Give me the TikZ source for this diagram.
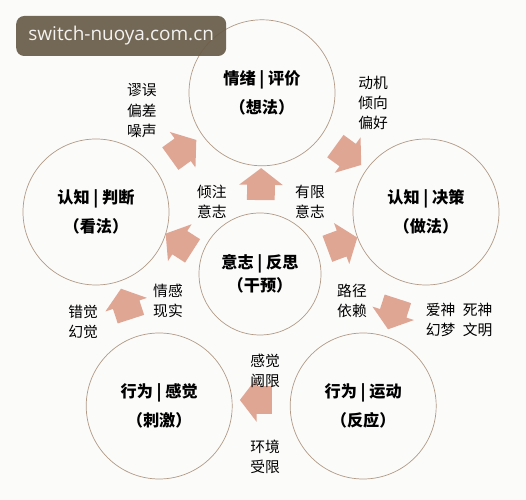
\documentclass[tikz,border=0pt]{standalone}
\usepackage{fontspec}
\setmainfont{Noto Sans CJK SC}
\newfontfamily\wmfont{Open Sans}
\usetikzlibrary{shapes.arrows}
\definecolor{arrowpink}{RGB}{224,166,148}
\definecolor{ringline}{RGB}{178,154,134}
\definecolor{wmbrown}{RGB}{104,92,72}
\definecolor{paper}{RGB}{251,251,250}
\tikzset{
  ring/.style={circle,draw=ringline,line width=0.5pt,minimum size=3.65cm,inner sep=0pt,
    align=center,font=\bfseries\fontsize{11.5}{21}\selectfont},
  flow/.style={single arrow,fill=arrowpink,draw=none,minimum height=0.8cm,
    single arrow head extend=0.2cm,single arrow tip angle=105,inner xsep=0pt,inner ysep=0.34cm,
    sloped,allow upside down},
  note/.style={align=center,font=\fontsize{10.5}{14.5}\selectfont}
}
\begin{document}
\begin{tikzpicture}
        \fill[paper] (0,0) rectangle (13.15,12.5);
        % Circles
        \node[ring] (think) at (6.55,10.18) {情绪 | 评价\\（想法）};
        \node[ring] (view) at (2.4,7.2) {认知 | 判断\\（看法）};
        \node[ring] (act) at (10.65,7.2) {认知 | 决策\\（做法）};
        \node[ring,minimum size=3.05cm,font=\bfseries\fontsize{11.5}{16}\selectfont] (will) at (6.5,5.65) {意志 | 反思\\（干预）};
        \node[ring] (sense) at (3.98,2.35) {行为 | 感觉\\（刺激）};
        \node[ring] (move) at (9.08,2.35) {行为 | 运动\\（反应）};
        % Block arrows
        \path (view) -- node[flow] {} (think);
        \path (think) -- node[flow] {} (act);
        \path (act) -- node[flow] {} (move);
        \path (move) -- node[flow,yshift=-0.15cm] {} (sense);
        \path (sense) -- node[flow] {} (view);
        \path (will) -- node[flow] {} (think);
        \path (will) -- node[flow,rotate=-12] {} (view);
        \path (will) -- node[flow] {} (act);
        % Labels
        \node[note] (bias) at (3.55,9.73) {谬误\\偏差\\噪声};
        \node[note] (motive) at (9.33,9.93) {动机\\倾向\\偏好};
        \node[note] (focus) at (5.3,7.45) {倾注\\意志};
        \node[note] (limit) at (7.75,7.45) {有限\\意志};
        \node[note] (feel) at (4.2,4.98) {情感\\现实};
        \node[note] (illus) at (2.08,4.45) {错觉\\幻觉};
        \node[note] (path) at (8.8,4.98) {路径\\依赖};
        \node[note] (myth) at (11.48,4.5) {爱神\enspace 死神\\幻梦\enspace 文明};
        \node[note] (thres) at (6.63,3.23) {感觉\\阈限};
        \node[note] (env) at (6.63,1.08) {环境\\受限};
        % Watermark
        \node[fill=wmbrown,fill opacity=0.92,text opacity=1,text=white!92!wmbrown,rounded corners=0.2cm,
          minimum width=5.25cm,minimum height=1cm,font=\wmfont\fontsize{13.5}{16}\selectfont] (mark) at (3.03,11.6) {switch-nuoya.com.cn};
\end{tikzpicture}
\end{document}
